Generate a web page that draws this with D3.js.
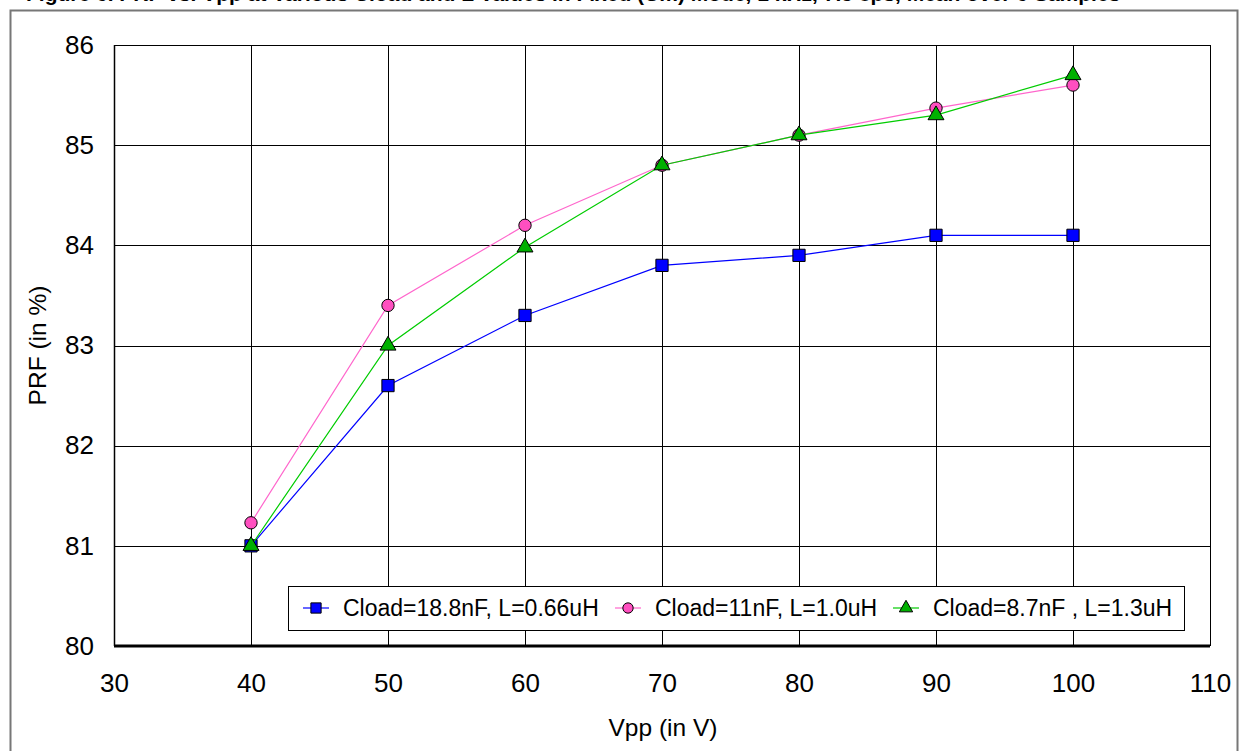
<!DOCTYPE html>
<html>
<head>
<meta charset="utf-8">
<script src="https://cdn.jsdelivr.net/npm/d3@7"></script>
<style>
  body { margin: 0; background: #fff; }
  svg { display: block; font-family: "Liberation Sans", Arial, sans-serif; }
</style>
</head>
<body>
<div id="chart"></div>
<script>
// data
const vpp = [40, 50, 60, 70, 80, 90, 100];
const prfBlue = [81.0, 82.6, 83.3, 83.8, 83.9, 84.1, 84.1];
const prfPink = [81.23, 83.4, 84.2, 84.8, 85.1, 85.37, 85.6];
const prfGreen = [81.0, 83.0, 83.98, 84.8, 85.1, 85.3, 85.7];
const seriesNames = ["Cload=18.8nF, L=0.66uH", "Cload=11nF, L=1.0uH", "Cload=8.7nF , L=1.3uH"];
const xTicks = [30, 40, 50, 60, 70, 80, 90, 100, 110];
const yTicks = [80, 81, 82, 83, 84, 85, 86];

const W = 1242, H = 751;
const margin = { top: 45, right: 32, bottom: 105, left: 114 },
    width = W - margin.left - margin.right,
    height = H - margin.top - margin.bottom;

const svg = d3.select("#chart")
    .append("svg")
    .attr("width", W)
    .attr("height", H);

// outer frame
svg.append("rect")
    .attr("x", 10.5).attr("y", 10.5)
    .attr("width", 1227).attr("height", 780)
    .attr("fill", "none")
    .attr("stroke", "#777")
    .attr("stroke-width", 2);

// caption, clipped by the top edge as in the source
svg.append("text")
    .attr("x", 26).attr("y", 1)
    .attr("font-size", 21).attr("font-weight", "bold")
    .text("Figure 6.    PRF vs. Vpp at Various Cload and L Values in Fixed (Cm) Mode, 1 kHz, 7.5 cps, Mean over 6 Samples");

const g = svg.append("g")
    .attr("transform", `translate(${margin.left}, ${margin.top})`);

const x = d3.scaleLinear().domain([30, 110]).range([0, width]);
const y = d3.scaleLinear().domain([80, 86]).range([height, 0]);

// grid
g.append("g")
    .selectAll("line")
    .data(yTicks.slice(1))
    .join("line")
    .attr("x1", 0).attr("x2", width)
    .attr("y1", d => Math.round(y(d)) + 0.5).attr("y2", d => Math.round(y(d)) + 0.5)
    .attr("stroke", "#000").attr("stroke-width", 1);

g.append("g")
    .selectAll("line")
    .data(xTicks.slice(1))
    .join("line")
    .attr("x1", d => Math.round(x(d)) + 0.5).attr("x2", d => Math.round(x(d)) + 0.5)
    .attr("y1", 0).attr("y2", height)
    .attr("stroke", "#000").attr("stroke-width", 1);

// axes lines
g.append("line")
    .attr("x1", 0.5).attr("x2", 0.5).attr("y1", 0).attr("y2", height)
    .attr("stroke", "#000").attr("stroke-width", 1.5);
g.append("line")
    .attr("x1", 0).attr("x2", width).attr("y1", height).attr("y2", height)
    .attr("stroke", "#000").attr("stroke-width", 3);

// tick labels
const xAxis = g.append("g")
    .attr("transform", `translate(0, ${height})`)
    .call(d3.axisBottom(x).tickValues(xTicks).tickSize(0).tickPadding(28).tickFormat(d3.format("d")));
xAxis.select(".domain").remove();
xAxis.selectAll("text").attr("font-size", 26).attr("font-family", "Liberation Sans, Arial").attr("fill", "#000");

const yAxis = g.append("g")
    .call(d3.axisLeft(y).tickValues(yTicks).tickSize(0).tickPadding(20).tickFormat(d3.format("d")));
yAxis.select(".domain").remove();
yAxis.selectAll("text").attr("font-size", 26).attr("font-family", "Liberation Sans, Arial").attr("fill", "#000");

// axis titles
svg.append("text")
    .attr("x", 663).attr("y", 736)
    .attr("text-anchor", "middle").attr("font-size", 24.5)
    .text("Vpp (in V)");
svg.append("text")
    .attr("transform", `translate(46, ${margin.top + height / 2}) rotate(-90)`)
    .attr("text-anchor", "middle").attr("font-size", 24.5)
    .text("PRF (in %)");

// series
const series = [
    { name: seriesNames[0], values: prfBlue, line: "#0000ff", fill: "#0000ff", shape: d3.symbolSquare, size: 150 },
    { name: seriesNames[1], values: prfPink, line: "#ff66cc", fill: "#ff4fc0", shape: d3.symbolCircle, size: 120 },
    { name: seriesNames[2], values: prfGreen, line: "#00cc00", fill: "#00b000", shape: d3.symbolTriangle, size: 110 }
];

const line = d3.line().x(d => x(d[0])).y(d => y(d[1]));

series.forEach(s => {
    const pts = vpp.map((v, i) => [v, s.values[i]]);
    g.append("path")
        .datum(pts)
        .attr("fill", "none")
        .attr("stroke", s.line)
        .attr("stroke-width", 1.2)
        .attr("d", line);
    g.append("g")
        .selectAll("path")
        .data(pts)
        .join("path")
        .attr("transform", d => `translate(${x(d[0])}, ${y(d[1])})`)
        .attr("d", d3.symbol().type(s.shape).size(s.size))
        .attr("fill", s.fill)
        .attr("stroke", "#000")
        .attr("stroke-width", 1);
});

// legend
const legend = svg.append("g");
legend.append("rect")
    .attr("x", 288.5).attr("y", 586.5)
    .attr("width", 896).attr("height", 44)
    .attr("fill", "#fff").attr("stroke", "#000").attr("stroke-width", 1);

const legendX = [316, 628, 906];
series.forEach((s, i) => {
    const lg = legend.append("g").attr("transform", `translate(${legendX[i]}, 608)`);
    lg.append("line").attr("x1", -13).attr("x2", 13).attr("y1", 0).attr("y2", 0)
        .attr("stroke", s.line).attr("stroke-width", 1.2);
    lg.append("path")
        .attr("d", d3.symbol().type(s.shape).size(s.size * 0.7))
        .attr("fill", s.fill).attr("stroke", "#000").attr("stroke-width", 1);
    lg.append("text")
        .attr("x", 27).attr("y", 8)
        .attr("font-size", 23)
        .text(s.name);
});
</script>
</body>
</html>
